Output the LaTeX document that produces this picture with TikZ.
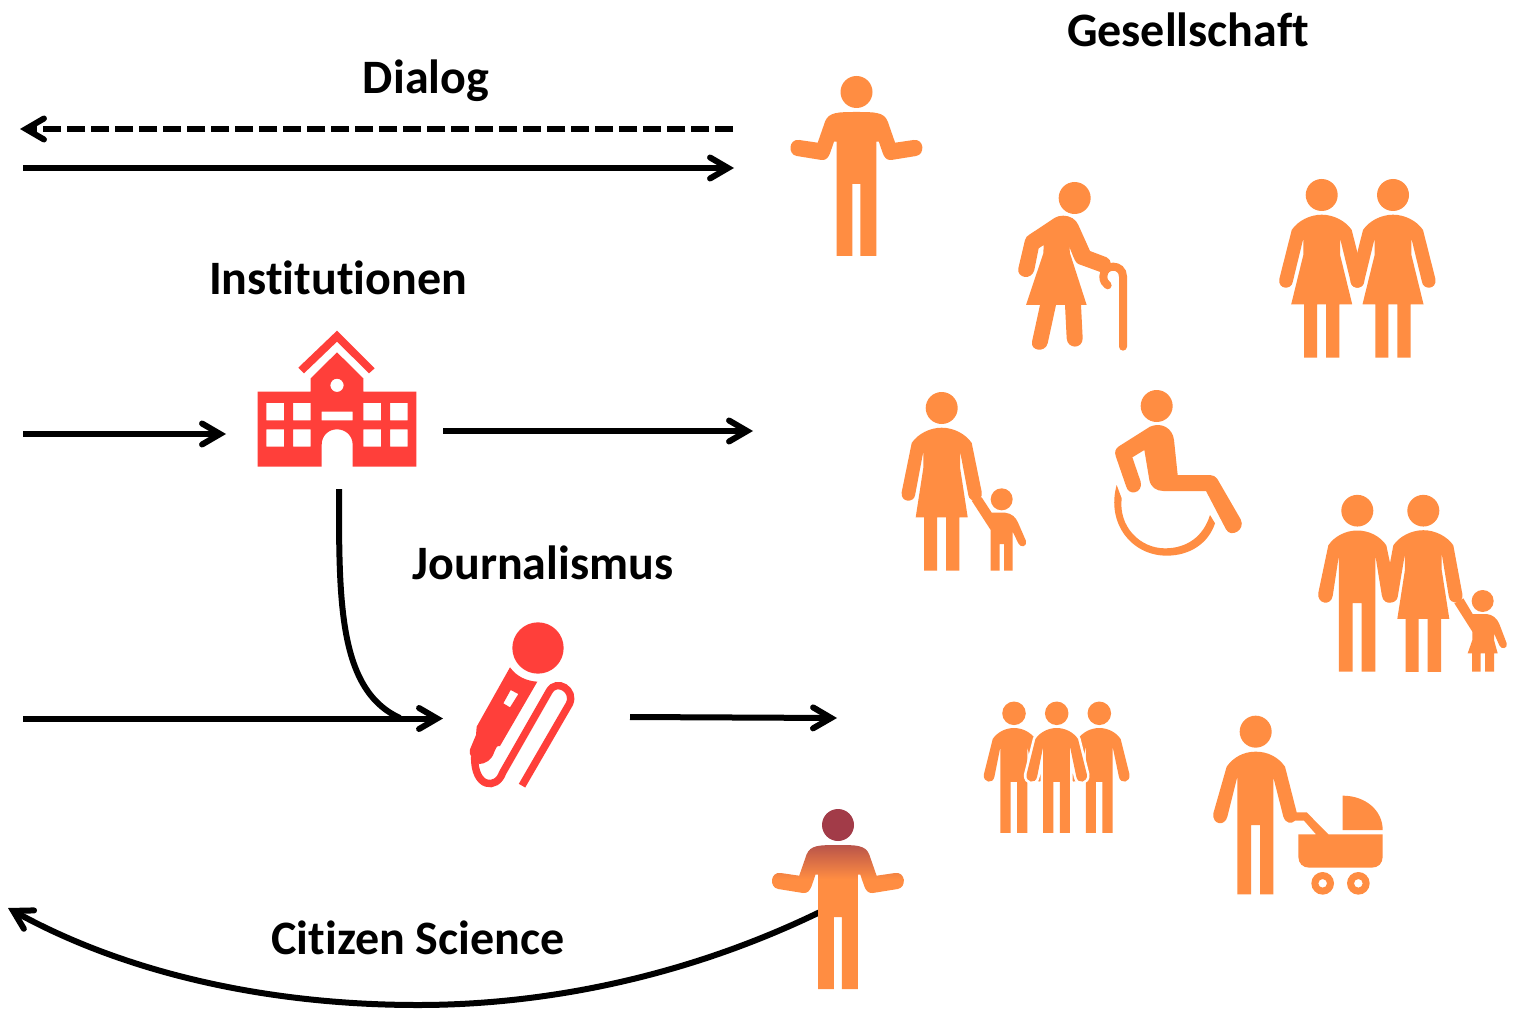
\documentclass[tikz,border=0pt]{standalone}
\usepackage{fontspec}
\setmainfont{Carlito}[RawFeature={-liga}]
\usetikzlibrary{arrows.meta}
\definecolor{orangeC}{HTML}{FF8D42}
\definecolor{redC}{HTML}{FF3F3A}
\definecolor{darkC}{HTML}{A23B48}
\definecolor{midC}{HTML}{B9544A}
% figure outlines, origin at the centre of the head
\newcommand\IconShrug{(0,0) circle (16)
 (0,20) .. controls (-18,20) and (-28,20) .. (-31.5,29.7) -- (-38.8,50.7) -- (-57.2,48)
 .. controls (-68,46.5) and (-69,62.5) .. (-59.8,64) -- (-35,68)
 .. controls (-30,68.5) and (-28,65) .. (-26.5,61.3) -- (-22.5,49.7) -- (-20,49.7) -- (-20,164) -- (-4.2,164) -- (-4.2,92)
 -- (3.8,92) -- (3.8,164) -- (19.8,164) -- (19.8,49.7) -- (22.3,49.7) -- (26.3,61.3)
 .. controls (27.8,65) and (29.8,68.5) .. (34.8,68) -- (59.6,64)
 .. controls (68.8,62.5) and (67.8,46.5) .. (57,48) -- (38.6,50.7) -- (31.3,29.7)
 .. controls (27.8,20) and (18,20) .. (0,20) -- cycle}
% #1 = distance of the outer edge of the hand from the axis
\newcommand\IconMan[1]{(0,0) circle (16)
 (0,20) .. controls (-12,20) and (-23,26) .. (-29,35) -- ({-#1},83)
 .. controls ({-#1-1.6},94) and ({-#1+12.4},97) .. ({-#1+14.4},86) -- (-18.4,45) -- (-18.4,162.6) -- (-4.7,162.6) -- (-4.7,93.3)
 -- (4.3,93.3) -- (4.3,162.6) -- (18,162.6) -- (18,45) -- ({#1-14.4},86)
 .. controls ({#1-12.4},97) and ({#1+1.6},94) .. ({#1},83) -- (29,35) .. controls (23,26) and (12,20) .. (0,20) -- cycle}
\newcommand\IconWoman[2]{(0,0) circle (16)
 (0,19.7) .. controls (-12,19.7) and (-24,26) .. (-30,35) -- ({-#2},84)
 .. controls ({-#2-1.6},95) and ({-#2+12.4},95) .. ({-#2+13.4},87) -- (-18.4,43.5) -- (-18.4,60) -- ({-#1},109.3) -- (-17.7,109.3) -- (-17.7,162.7) -- (-4.7,162.7) -- (-4.7,109.3)
 -- (4.3,109.3) -- (4.3,162.7) -- (17.7,162.7) -- (17.7,109.3) -- ({#1},109.3) -- (18.4,60) -- (18.4,43.5) -- ({#2-13.4},87)
 .. controls ({#2-12.4},95) and ({#2+1.6},95) .. ({#2},84) -- (30,35) .. controls (24,26) and (12,19.7) .. (0,19.7) -- cycle}
\newcommand\IconChild{(335,358) circle (33)
 (305,398) -- (345,398) .. controls (365,400) and (378,412) .. (385,430) -- (408,483)
 .. controls (412,500) and (392,505) .. (385,490) -- (368,455) -- (368,572) -- (342,572) -- (342,492) -- (329,492) -- (329,572) -- (302,572) -- (302,450) -- (245,362) -- (275,352) -- cycle}
\newcommand\IconGirl{(518,333) circle (33)
 (488,372) -- (530,372) .. controls (548,374) and (561,385) .. (568,402) -- (590,460)
 .. controls (594,476) and (574,480) .. (568,466) -- (552,430) -- (552,450) -- (563,490) -- (552,490) -- (552,545) -- (525,545) -- (525,490) -- (512,490) -- (512,545) -- (486,545) -- (486,490) -- (473,490) -- (487,450) -- (487,425) -- (433,340) -- (460,325) -- cycle}
\tikzset{
 fig/.style={fill=orangeC},
 icon/.style={fill=redC,even odd rule},
 cane/.style={draw=orangeC,line width=4pt,line cap=round},
 halo/.style={draw=white,line width=2.6pt},
 flowline/.style={draw=black,line width=3pt},
 flow/.style={flowline,-{Straight Barb[length=9pt,width=10.5pt,line cap=round,line join=miter]}},
 title/.style={font=\bfseries\fontsize{24}{29}\selectfont,inner sep=0pt,anchor=center},
}
\begin{document}
\begin{tikzpicture}[x=0.5pt,y=-0.5pt]
\useasboundingbox (0,0) rectangle (1524,1010);
\fill[white] (0,0) rectangle (1524,1010);

% labels
\node[title] (dialog) at (426,81) {Dialog};
\node[title] (gesellschaft) at (1188,30) {Gesellschaft};
\node[title] (institutionen) at (338,278) {Institutionen};
\node[title] (journalismus) at (543,563) {Journalismus};
\node[title] (citizen) at (418,938) {Citizen Science};

% connector ends
\coordinate (dA) at (733,129); \coordinate (dB) at (20,129);
\coordinate (sA) at (23,168); \coordinate (sB) at (734,168);
\coordinate (inA) at (23,434); \coordinate (inB) at (226,434);
\coordinate (outA) at (443,431); \coordinate (outB) at (753,431);
\coordinate (jA) at (23,718.5); \coordinate (jB) at (443,718.5);
\coordinate (bA) at (339,489); \coordinate (bB) at (400,718);
\coordinate (mA) at (630,717); \coordinate (mB) at (837,718);
\coordinate (cA) at (820,912); \coordinate (cM) at (418,1005); \coordinate (cB) at (8,908);

\draw[flow,dash pattern=on 9pt off 3pt] (dA) -- (dB);
\draw[flow] (sA) -- (sB);
\draw[flow] (inA) -- (inB);
\draw[flow] (outA) -- (outB);
\draw[flow] (jA) -- (jB);
\draw[flowline] (bA) .. controls (339,600) and (338,690) .. (bB);
\draw[flow] (mA) -- (mB);
\draw[flow] (cA) .. controls (690,975) and (550,1005) .. (cM) .. controls (260,1005) and (120,970) .. (cB);

% person shrugging, top
\fill[fig,shift={(856.5,92)}] \IconShrug;

% citizen scientist
\begin{scope}[shift={(838,825)}]
 \clip \IconShrug;
 \fill[darkC] (-80,-20) rectangle (80,20.2);
 \shade[top color=midC,bottom color=orangeC] (-80,20) rectangle (80,54);
 \fill[orangeC] (-80,53.8) rectangle (80,170);
\end{scope}

% old woman with cane
\begin{scope}[shift={(770,60)},scale=0.33333]
 \fill[fig] (914,414) circle (48);
 \fill[fig] (880,467) .. controls (900,467) and (918,478) .. (925,495) -- (960,573) -- (1010,592)
  .. controls (1025,598) and (1030,625) .. (1010,640) -- (988,635) -- (925,612) .. controls (918,608) and (915,605) .. (898,560)
  -- (900,580) -- (950,735) -- (933,735) -- (938,835) .. controls (938,868) and (892,868) .. (890,835) -- (885,735) -- (858,735) -- (833,850)
  .. controls (825,880) and (780,872) .. (786,845) -- (810,735) -- (768,735) -- (820,580) -- (821,555) -- (806,565) -- (793,630)
  .. controls (785,662) and (740,655) .. (745,625) -- (765,540) .. controls (767,532) and (772,527) .. (778,524) -- (855,473) .. controls (862,469) and (870,467) .. (880,467) -- cycle;
 \path[cane] (1059,860) -- (1059,650) .. controls (1059,610) and (1000,610) .. (1000,650) .. controls (1000,663) and (1006,670) .. (1013,676);
\end{scope}

% two women
\fill[fig,shift={(1321.7,195)}] \IconWoman{30.5}{42.4};
\fill[fig,shift={(1393,195)}] \IconWoman{30.5}{42.4};

% woman and child
\fill[fig,shift={(941.7,408)}] \IconWoman{26}{40};
\fill[fig,shift={(890,380)},scale=0.33333] \IconChild;

% wheelchair
\begin{scope}[shift={(1100,380)},scale=0.33333]
 \fill[fig] (170,78) circle (48);
 \fill[fig] (150,140) .. controls (185,125) and (218,145) .. (222,180) -- (233,285) -- (330,285) .. controls (340,285) and (347,290) .. (352,297)
  -- (422,418) .. controls (438,450) and (392,475) .. (378,448) -- (318,333) -- (190,333) .. controls (170,333) and (152,322) .. (148,300)
  -- (133,210) -- (97,232) -- (122,305) .. controls (130,340) and (85,350) .. (78,318) -- (47,228) .. controls (43,215) and (47,207) .. (55,200) -- cycle;
 \fill[fig] (50,315) .. controls (18,430) and (95,527) .. (200,527) .. controls (270,527) and (325,490) .. (345,430) -- (330,405)
  .. controls (310,470) and (260,505) .. (195,505) .. controls (120,505) and (55,440) .. (65,355) -- cycle;
\end{scope}

% man, woman, child
\fill[fig,shift={(1357.3,510.7)},yscale=0.99] \IconMan{39};
\fill[fig,shift={(1423.3,510.7)},yscale=0.99] \IconWoman{26}{39};
\fill[fig,shift={(1310,490)},scale=0.33333] \IconGirl;

% three people
\fill[fig,shift={(1014,713.3)},scale=0.736] \IconMan{41};
\fill[fig,shift={(1099.3,713.3)},scale=0.736] \IconMan{41};
\path[halo,shift={(1056.7,713.3)},scale=0.736] \IconMan{41};
\fill[fig,shift={(1056.7,713.3)},scale=0.736] \IconMan{41};

% person with pram
\begin{scope}[shift={(1200,700)},scale=0.33333]
 \fill[fig] (167,95) circle (48);
 \fill[fig] (167,155) .. controls (130,155) and (100,172) .. (80,200) -- (40,340) .. controls (36,375) and (75,380) .. (82,350) -- (112,230)
  -- (112,583) -- (153,583) -- (153,375) -- (180,375) -- (180,583) -- (220,583) -- (220,232) -- (250,350) .. controls (258,372) and (275,372) .. (285,362)
  -- (312,362) -- (348,403) -- (295,403) -- (295,470) .. controls (295,490) and (308,503) .. (328,503) -- (515,503) .. controls (535,503) and (548,490) .. (548,470) -- (548,403)
  -- (385,403) -- (320,337) -- (290,337) -- (255,200) .. controls (235,172) and (205,155) .. (167,155) -- cycle;
 \fill[fig] (428,287) .. controls (495,287) and (548,330) .. (548,390) -- (428,390) -- cycle;
 \fill[fig,even odd rule] (368,550) circle (34) (368,550) circle (13) (475,550) circle (34) (475,550) circle (13);
\end{scope}

% school building
\begin{scope}[shift={(240,320)},scale=0.33333]
 \fill[icon] (291,32) -- (404,145) -- (387,160) -- (291,65) -- (192,160) -- (175,143) -- cycle;
 \fill[icon] (291,97) -- (370,175) -- (370,215) -- (529,215) -- (529,440) -- (338,440) -- (338,375)
  .. controls (338,345) and (315,328) .. (291,328) .. controls (267,328) and (245,345) .. (245,375) -- (245,440) -- (53,440) -- (53,215) -- (212,215) -- (212,175) -- cycle
  (79,249) rectangle (132,301) (159,249) rectangle (212,301) (370,249) rectangle (423,301) (450,249) rectangle (503,301)
  (79,328) rectangle (132,380) (159,328) rectangle (212,380) (370,328) rectangle (423,380) (450,328) rectangle (503,380)
  (245,275) rectangle (338,301) (291,196) circle (20);
\end{scope}

% microphone
\begin{scope}[shift={(450,610)},scale=0.33333]
 \fill[redC] (264,114) circle (77);
 \fill[icon] (180,172) .. controls (200,200) and (230,213) .. (262,215) -- (150,408) .. controls (140,405) and (138,415) .. (132,428)
  .. controls (125,450) and (105,462) .. (88,462) .. controls (70,455) and (55,435) .. (60,418) -- (78,375) -- (80,350) -- cycle
  (182,240) -- (205,252) -- (180,292) -- (160,280) -- cycle;
 \draw[redC,line width=3.7pt] (216,527) -- (358,282) .. controls (378,240) and (320,205) .. (298,243) -- (158,488)
  .. controls (140,540) and (72,535) .. (74,440);
\end{scope}
\end{tikzpicture}
\end{document}
